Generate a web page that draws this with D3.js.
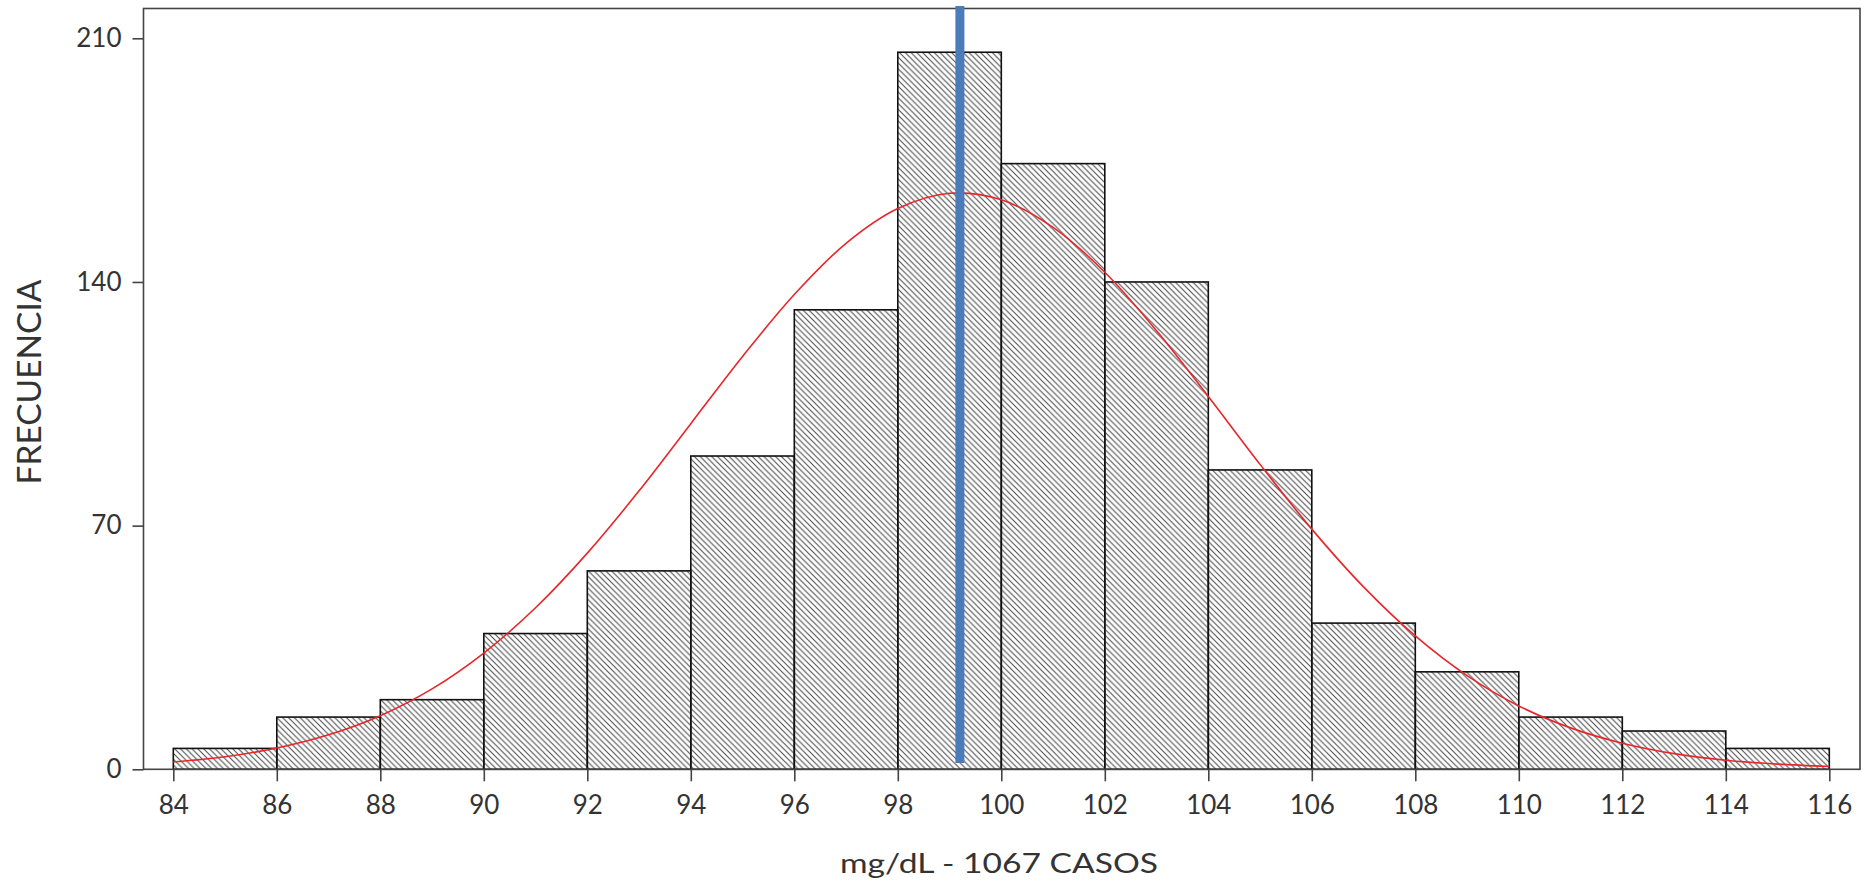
<!DOCTYPE html>
<html>
<head>
<meta charset="utf-8">
<script src="https://cdn.jsdelivr.net/npm/d3@7"></script>
<style>
  body { margin: 0; background: #fff; }
  svg { display: block; }
  .axis text { font-family: Lato, "Open Sans", sans-serif; fill: #333; }
</style>
</head>
<body>
<svg id="chart" width="1865" height="883"></svg>
<script>
// histograma de glucosa, 1067 casos
var binStart = [84,86,88,90,92,94,96,98,100,102,104,106,108,110,112,114];
var binWidth = 2;
var counts   = [6,15,20,39,57,90,132,206,174,140,86,42,28,15,11,6];

var curveX = d3.range(84, 117);
var curveY = [2.1,3.6,6.1,9.9,15.4,23.1,33.4,46.4,62.1,80.0,99.3,118.6,136.4,151.1,161.1,165.5,
              163.6,155.7,142.8,126.0,107.1,87.6,69.0,52.4,38.3,26.9,18.2,11.9,7.5,4.5,2.6,1.5,0.8];

var mediaX = 99.2;
var xTicks = d3.range(84, 117, 2);
var yTicks = [0, 70, 140, 210];

var frame = {left: 143.5, right: 1860, top: 8.5, bottom: 769.3};

var svg = d3.select("#chart");

var x = d3.scaleLinear().domain([84, 116]).range([173.3, 1829.3]);
var y = d3.scaleLinear().domain([0, 210]).range([frame.bottom, 38.3]);

// trama diagonal
var defs = svg.append("defs");
defs.append("pattern")
    .attr("id", "hatch")
    .attr("patternUnits", "userSpaceOnUse")
    .attr("width", 5.8).attr("height", 5.8)
  .append("path")
    .attr("d", "M0,0L5.8,5.8M-1,4.8L1,6.8M4.8,-1L6.8,1")
    .attr("stroke", "#4a4a4a")
    .attr("stroke-width", 1.05);

// barras
svg.append("g").selectAll("rect")
    .data(binStart)
    .enter().append("rect")
    .attr("x", function(d){ return x(d); })
    .attr("width", function(d){ return x(d + binWidth) - x(d); })
    .attr("y", function(d,i){ return y(counts[i]); })
    .attr("height", function(d,i){ return y(0) - y(counts[i]); })
    .attr("fill", "url(#hatch)")
    .attr("stroke", "#111")
    .attr("stroke-width", 1.6);

// curva normal
var line = d3.line()
    .x(function(d,i){ return x(curveX[i]); })
    .y(function(d){ return y(d); })
    .curve(d3.curveCatmullRom);
svg.append("path")
    .datum(curveY)
    .attr("d", line)
    .attr("fill", "none")
    .attr("stroke", "#e8262a")
    .attr("stroke-width", 1.6);

// marco
svg.append("rect")
    .attr("x", frame.left).attr("y", frame.top)
    .attr("width", frame.right - frame.left)
    .attr("height", frame.bottom - frame.top)
    .attr("fill", "none")
    .attr("stroke", "#444")
    .attr("stroke-width", 1.6);

// linea de la media
svg.append("line")
    .attr("x1", x(mediaX)).attr("x2", x(mediaX))
    .attr("y1", 6).attr("y2", y(1.8))
    .attr("stroke", "#4a7bba")
    .attr("stroke-width", 9);

// ejes
var yAxis = svg.append("g").attr("class", "axis")
    .attr("transform", "translate(" + frame.left + ",0)")
    .call(d3.axisLeft(y).tickValues(yTicks).tickSize(11).tickPadding(11));
var xAxis = svg.append("g").attr("class", "axis")
    .attr("transform", "translate(0," + frame.bottom + ")")
    .call(d3.axisBottom(x).tickValues(xTicks).tickSize(12).tickPadding(14));

[yAxis, xAxis].forEach(function(a){
    a.select(".domain").remove();
    a.selectAll(".tick line").attr("stroke", "#444").attr("stroke-width", 1.6);
    a.selectAll(".tick text").attr("font-size", 26);
});

// titulos
svg.append("text")
    .attr("transform", "translate(41," + 382 + ") rotate(-90)")
    .attr("text-anchor", "middle")
    .attr("font-family", "Lato, sans-serif")
    .attr("font-size", 33)
    .attr("textLength", 205)
    .attr("lengthAdjust", "spacingAndGlyphs")
    .attr("fill", "#333")
    .text("FRECUENCIA");

svg.append("text")
    .attr("x", 999).attr("y", 873)
    .attr("text-anchor", "middle")
    .attr("font-family", "Lato, sans-serif")
    .attr("font-size", 26)
    .attr("textLength", 318)
    .attr("lengthAdjust", "spacingAndGlyphs")
    .attr("fill", "#333")
    .text("mg/dL - 1067 CASOS");
</script>
</body>
</html>
